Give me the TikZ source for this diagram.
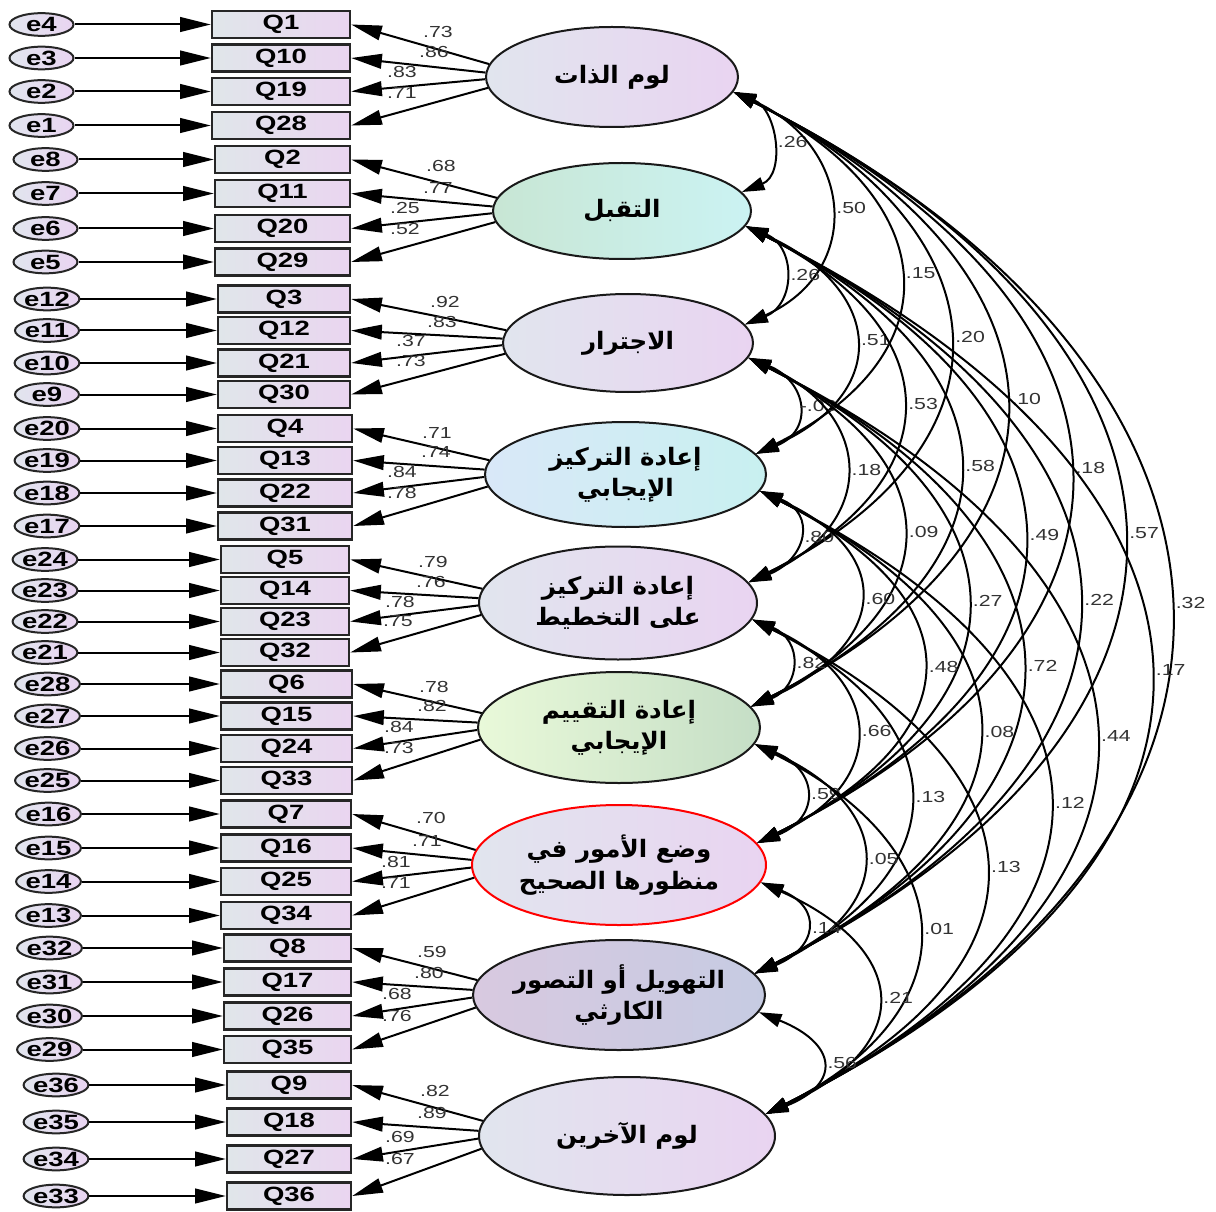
\documentclass[tikz,border=0pt]{standalone}
\usepackage{fontspec}
\usetikzlibrary{arrows.meta,shapes.geometric}
\setmainfont[FakeStretch=1.33]{Liberation Sans}
\newfontfamily\arabicfont[Script=Arabic,FakeStretch=1.02]{DejaVu Sans}
\TeXXeTstate=1
\definecolor{gA}{HTML}{E1E5EE}
\definecolor{pA}{HTML}{E9D4F1}
\definecolor{gnL}{HTML}{C8E6D4}
\definecolor{cyR}{HTML}{CBF3F3}
\definecolor{blL}{HTML}{D9E8F8}
\definecolor{cyR2}{HTML}{C8F0F0}
\definecolor{yL}{HTML}{E9F9D9}
\definecolor{gR}{HTML}{C5DEC6}
\definecolor{pL}{HTML}{D8C9E0}
\definecolor{bR}{HTML}{C6CBE2}
\definecolor{boxL}{HTML}{E0E6EA}
\definecolor{boxR}{HTML}{EAD5F0}
\tikzset{
 obs/.style={draw=black!85, line width=1.8pt, left color=boxL, right color=boxR, minimum height=20pt, inner sep=0pt, font=\bfseries\fontsize{15.5}{15.5}\selectfont},
 err/.style={ellipse, draw=black!85, line width=1.5pt, left color=gA, right color=pA, minimum width=48pt, minimum height=17pt, inner sep=0pt, font=\bfseries\fontsize{15.5}{15.5}\selectfont},
 lat/.style={ellipse, draw=black!90, line width=1.5pt, inner sep=0pt},
 lattext/.style={align=center, inner sep=0pt, font=\arabicfont\bfseries\fontsize{18}{23.5}\selectfont},
 arr/.style={line width=1.5pt, -{Triangle[length=23pt,width=11pt]}},
 cov/.style={line width=1.5pt, {Triangle[length=17pt,width=10pt]}-{Triangle[length=17pt,width=10pt]}},
 lab/.style={font=\fontsize{12}{12}\selectfont, text=black!80, inner sep=0pt},
}
\newcommand\obsrow[6]{%
  \node[err] (#1) at (#2,#6) {#1};
  \pgfmathsetmacro\qw{(#5-#4)*0.75}
  \node[obs, minimum width=\qw pt] (#3) at ({(#4+#5)/2},#6) {#3};
  \draw[arr] (#1) -- (#3);}
\newcommand\load[6]{%
  \draw[arr] (#1.#2) -- (#3.east);
  \node[lab] (L#3) at (#5,#6) {#4};}
\newcommand\cov[4]{%
  \pgfmathsetmacro\ca{(#4-22-752)*4/3}
  \pgfmathsetmacro\cf{min(0.5,0.4+0.05*(#2-#1-1))}
  \pgfmathsetmacro\cb{\cf*\ca}
  \draw[cov] (F#1.-7) .. controls +(\ca,\cb) and +(\ca,-\cb) .. (F#2.9)
     node[lab, pos=.5, xshift=16.5pt] (C#1#2) {#3};}
\begin{document}
\begin{tikzpicture}[x=0.75pt,y=-0.75pt]
\useasboundingbox (0,0) rectangle (1216,1212);
% latent variables
\node[lat, minimum width=189pt, minimum height=75pt, left color=gA, right color=pA] (F1) at (612,77) {};
\node[lat, minimum width=193.5pt, minimum height=72pt, left color=gnL, right color=cyR] (F2) at (622,211) {};
\node[lat, minimum width=187.5pt, minimum height=73.5pt, left color=gA, right color=pA] (F3) at (628,343) {};
\node[lat, minimum width=210.75pt, minimum height=78.75pt, left color=blL, right color=cyR2] (F4) at (625.5,474.5) {};
\node[lat, minimum width=208.5pt, minimum height=84.75pt, left color=gA, right color=pA] (F5) at (618,603) {};
\node[lat, minimum width=211.5pt, minimum height=83.25pt, left color=yL, right color=gR] (F6) at (619,727.5) {};
\node[lat, draw=red, minimum width=220.5pt, minimum height=90pt, left color=gA, right color=pA] (F7) at (619,865) {};
\node[lat, minimum width=219pt, minimum height=82.5pt, left color=pL, right color=bR] (F8) at (619,995) {};
\node[lat, minimum width=222pt, minimum height=88.5pt, left color=gA, right color=pA] (F9) at (627,1136) {};
\node[lattext] (F1t) at (F1) {\beginR لوم الذات\endR};
\node[lattext] (F2t) at (F2) {\beginR التقبل\endR};
\node[lattext] (F3t) at (F3) {\beginR الاجترار\endR};
\node[lattext] (F4t) at (F4) {\beginR إعادة التركيز\endR\\\beginR الإيجابي\endR};
\node[lattext] (F5t) at (F5) {\beginR إعادة التركيز\endR\\\beginR على التخطيط\endR};
\node[lattext] (F6t) at (F6) {\beginR إعادة التقييم\endR\\\beginR الإيجابي\endR};
\node[lattext] (F7t) at (F7) {\beginR وضع الأمور في\endR\\\beginR منظورها الصحيح\endR};
\node[lattext] (F8t) at (F8) {\beginR التهويل أو التصور\endR\\\beginR الكارثي\endR};
\node[lattext] (F9t) at (F9) {\beginR لوم الآخرين\endR};
% observed rows
\obsrow{e4}{41.5}{Q1}{212}{350}{24.5}
\obsrow{e3}{41.5}{Q10}{212}{350}{58}
\obsrow{e2}{41.5}{Q19}{212}{350}{91.5}
\obsrow{e1}{41.5}{Q28}{212}{350}{125.5}
\obsrow{e8}{45.5}{Q2}{215}{350}{159.5}
\obsrow{e7}{45.5}{Q11}{215}{350}{193.5}
\obsrow{e6}{45.5}{Q20}{215}{350}{228.5}
\obsrow{e5}{45.5}{Q29}{215}{350}{262}
\obsrow{e12}{47}{Q3}{218}{350}{299}
\obsrow{e11}{47}{Q12}{218}{350}{330.5}
\obsrow{e10}{47}{Q21}{218}{350}{363}
\obsrow{e9}{47}{Q30}{218}{350}{394.5}
\obsrow{e20}{47}{Q4}{218}{352}{428.5}
\obsrow{e19}{47}{Q13}{218}{352}{460.5}
\obsrow{e18}{47}{Q22}{218}{352}{493}
\obsrow{e17}{47}{Q31}{218}{352}{526}
\obsrow{e24}{45}{Q5}{221}{349}{559.5}
\obsrow{e23}{45}{Q14}{221}{349}{590.5}
\obsrow{e22}{45}{Q23}{221}{349}{621.5}
\obsrow{e21}{45}{Q32}{221}{349}{652.5}
\obsrow{e28}{47.5}{Q6}{221}{352}{684}
\obsrow{e27}{47.5}{Q15}{221}{352}{716}
\obsrow{e26}{47.5}{Q24}{221}{352}{748.5}
\obsrow{e25}{47.5}{Q33}{221}{352}{780.5}
\obsrow{e16}{48.5}{Q7}{221}{351}{814}
\obsrow{e15}{48.5}{Q16}{221}{351}{848}
\obsrow{e14}{48.5}{Q25}{221}{351}{881.5}
\obsrow{e13}{48.5}{Q34}{221}{351}{915.5}
\obsrow{e32}{49.5}{Q8}{224}{351}{948}
\obsrow{e31}{49.5}{Q17}{224}{351}{982}
\obsrow{e30}{49.5}{Q26}{224}{351}{1016}
\obsrow{e29}{49.5}{Q35}{224}{351}{1049.5}
\obsrow{e36}{56}{Q9}{227}{351}{1085}
\obsrow{e35}{56}{Q18}{227}{351}{1122}
\obsrow{e34}{56}{Q27}{227}{351}{1159}
\obsrow{e33}{56}{Q36}{227}{351}{1196}
% loadings
\load{F1}{174.5}{Q1}{.73}{438}{32}
\load{F1}{178.2}{Q10}{.86}{434}{52}
\load{F1}{181.8}{Q19}{.83}{402}{72}
\load{F1}{185.5}{Q28}{.71}{402}{93}
\load{F2}{174.5}{Q2}{.68}{441}{166}
\load{F2}{178.2}{Q11}{.77}{438}{188}
\load{F2}{181.8}{Q20}{.25}{405}{208}
\load{F2}{185.5}{Q29}{.52}{405}{229}
\load{F3}{174.5}{Q3}{.92}{445}{302}
\load{F3}{178.2}{Q12}{.83}{442}{322}
\load{F3}{181.8}{Q21}{.37}{411}{341}
\load{F3}{185.5}{Q30}{.73}{411}{361}
\load{F4}{174.5}{Q4}{.71}{437}{433}
\load{F4}{178.2}{Q13}{.74}{436}{452}
\load{F4}{181.8}{Q22}{.84}{402}{472}
\load{F4}{185.5}{Q31}{.78}{402}{493}
\load{F5}{174.5}{Q5}{.79}{433}{562}
\load{F5}{178.2}{Q14}{.76}{431}{582}
\load{F5}{181.8}{Q23}{.78}{400}{602}
\load{F5}{185.5}{Q32}{.75}{398}{621}
\load{F6}{174.5}{Q6}{.78}{434}{687}
\load{F6}{178.2}{Q15}{.82}{432}{706}
\load{F6}{181.8}{Q24}{.84}{399}{727}
\load{F6}{185.5}{Q33}{.73}{399}{748}
\load{F7}{174.5}{Q7}{.70}{431}{818}
\load{F7}{178.2}{Q16}{.71}{427}{841}
\load{F7}{181.8}{Q25}{.81}{396}{862}
\load{F7}{185.5}{Q34}{.71}{396}{883}
\load{F8}{174.5}{Q8}{.59}{432}{952}
\load{F8}{178.2}{Q17}{.80}{429}{973}
\load{F8}{181.8}{Q26}{.68}{397}{994}
\load{F8}{185.5}{Q35}{.76}{397}{1016}
\load{F9}{174.5}{Q9}{.82}{435}{1091}
\load{F9}{178.2}{Q18}{.89}{432}{1113}
\load{F9}{181.8}{Q27}{.69}{400}{1137}
\load{F9}{185.5}{Q36}{.67}{400}{1159}
% covariances
\cov{1}{2}{.26}{807}
\cov{1}{3}{.50}{864}
\cov{1}{4}{.15}{928}
\cov{1}{5}{.20}{981}
\cov{1}{6}{.10}{1036}
\cov{1}{7}{.18}{1097}
\cov{1}{8}{.57}{1152}
\cov{1}{9}{.32}{1193}
\cov{2}{3}{.26}{812}
\cov{2}{4}{.51}{877}
\cov{2}{5}{.53}{928}
\cov{2}{6}{.58}{984}
\cov{2}{7}{.49}{1045}
\cov{2}{8}{.22}{1101}
\cov{2}{9}{.17}{1167}
\cov{3}{4}{-.03}{818}
\cov{3}{5}{.18}{870}
\cov{3}{6}{.09}{926}
\cov{3}{7}{.27}{987}
\cov{3}{8}{.72}{1043}
\cov{3}{9}{.44}{1111}
\cov{4}{5}{.80}{817}
\cov{4}{6}{.60}{877}
\cov{4}{7}{.48}{937}
\cov{4}{8}{.08}{994}
\cov{4}{9}{.12}{1059}
\cov{5}{6}{.82}{812}
\cov{5}{7}{.66}{874}
\cov{5}{8}{.13}{929}
\cov{5}{9}{.13}{999}
\cov{6}{7}{.59}{822}
\cov{6}{8}{.05}{881}
\cov{6}{9}{.01}{931}
\cov{7}{8}{.14}{821}
\cov{7}{9}{.21}{887}
\cov{8}{9}{.56}{832}
\end{tikzpicture}
\end{document}
